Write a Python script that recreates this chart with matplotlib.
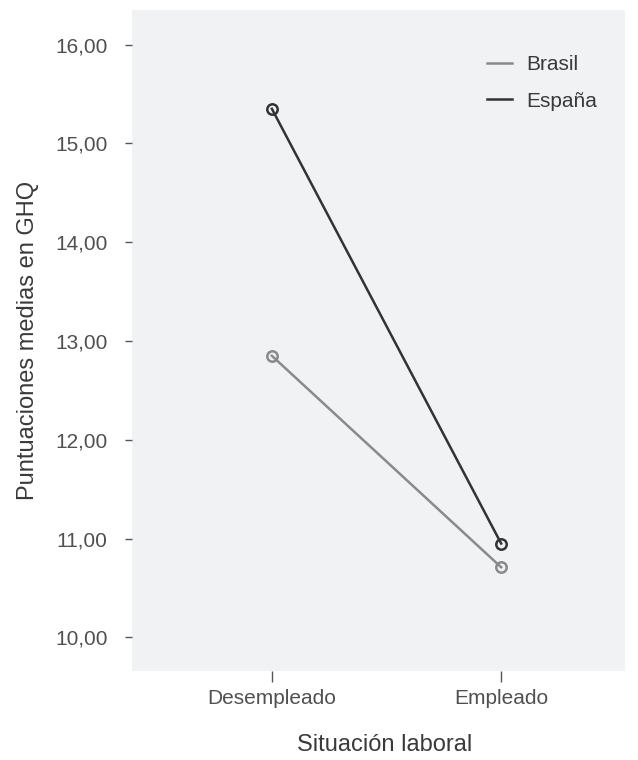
import matplotlib.pyplot as plt
from matplotlib.lines import Line2D

# datos
situacion = ["Desempleado", "Empleado"]
brasil = [12.85, 10.71]
espana = [15.35, 10.95]
yticks = [10, 11, 12, 13, 14, 15, 16]

plt.rcParams['font.family'] = ['Liberation Sans', 'DejaVu Sans']

c_brasil = "#8a8a8a"
c_espana = "#333333"
txt = "#505050"

fig = plt.figure(figsize=(6.38, 7.6), dpi=100)
ax = fig.add_axes([132/638, 1 - 671/760, (625-132)/638, (671-10)/760])
ax.set_facecolor("#f1f2f4")

x = list(range(len(situacion)))
ax.plot(x, brasil, color=c_brasil, lw=1.8, marker="o", ms=7.5, mfc="none", mew=1.8)
ax.plot(x, espana, color=c_espana, lw=1.8, marker="o", ms=7.5, mfc="none", mew=1.8)

ax.set_xlim(-0.61, 1.54)
ax.set_ylim(9.66, 16.35)
ax.set_xticks(x)
ax.set_xticklabels(situacion)
ax.set_yticks(yticks)
ax.set_yticklabels([f"{v:.2f}".replace(".", ",") for v in yticks])

for s in ax.spines.values():
    s.set_visible(False)
ax.tick_params(axis="both", colors="#555555", labelcolor=txt, labelsize=15, width=1)
ax.tick_params(axis="y", length=5, pad=12.5)
ax.tick_params(axis="x", length=8, pad=5)

ax.set_ylabel("Puntuaciones medias en GHQ", fontsize=17, color="#3a3a3a", labelpad=12)
ax.set_xlabel("Situación laboral", fontsize=17, color="#3a3a3a", labelpad=18)
ax.xaxis.set_label_coords((385 - 132) / 493, -0.095)

handles = [Line2D([], [], color=c_brasil, lw=1.8),
           Line2D([], [], color=c_espana, lw=1.8)]
leg = fig.legend(handles, ["Brasil", "España"], loc="upper left",
                 bbox_to_anchor=(487/638, 1 - 55/760), frameon=False, borderpad=0,
                 borderaxespad=0, fontsize=15, handlelength=1.2,
                 handletextpad=0.7, labelspacing=0.85)
for t in leg.get_texts():
    t.set_color("#3a3a3a")

fig.savefig("out.png", dpi=100)
